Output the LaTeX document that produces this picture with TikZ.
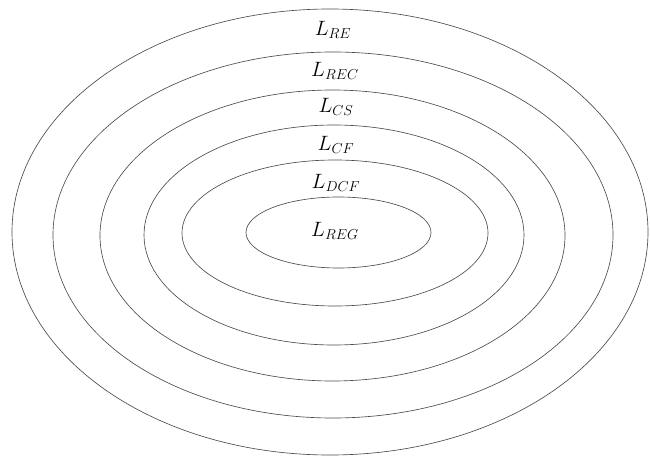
\documentclass[tikz,border=0pt]{standalone}
\usetikzlibrary{positioning}
\begin{document}
\begin{tikzpicture}[
  x=1pt, y=1pt,
  ring/.style={draw=black!70, line width=0.65pt},
  lbl/.style={font=\fontsize{20}{23}\selectfont, inner sep=0pt},
]
\useasboundingbox (0,0) rectangle (650,456);

% ============================================================================
% nested rings: centre x / centre y (from top) / x radius / y radius
% ============================================================================
\foreach \cx/\cy/\rx/\ry in {330/232/318/223, 333/235/280/183,
    332.5/235.5/232.5/145.5, 334/235/190/110, 335/233/153/73,
    338.5/232.5/92.5/35.5} {
  \draw[ring] (\cx,456-\cy) ellipse [x radius=\rx, y radius=\ry];
}

% ============================================================================
% layer labels
% ============================================================================
\node[lbl] (lRE)  at (333,456-30)  {$L_{RE}$};
\node[lbl] (lREC) at (335,456-71)  {$L_{REC}$};
\node[lbl] (lCS)  at (336,456-107) {$L_{CS}$};
\node[lbl] (lCF)  at (336,456-145) {$L_{CF}$};
\node[lbl] (lDCF) at (336,456-183) {$L_{DCF}$};
\node[lbl] (lREG) at (335,456-231) {$L_{REG}$};

\end{tikzpicture}
\end{document}
